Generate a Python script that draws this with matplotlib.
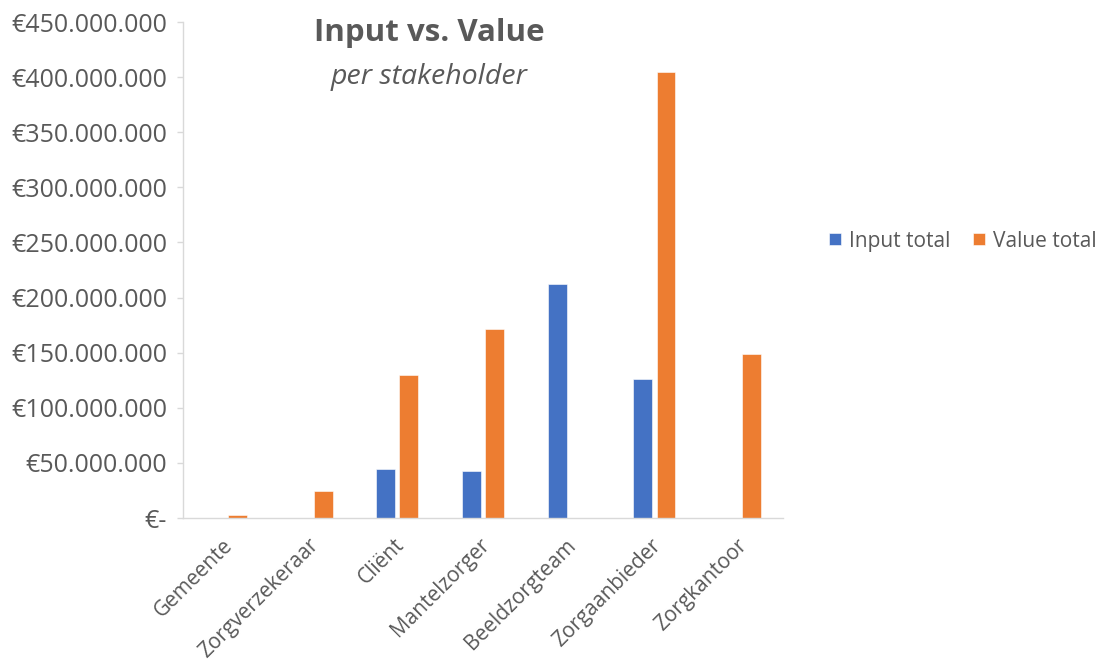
import matplotlib
matplotlib.use("Agg")
import matplotlib.pyplot as plt
import numpy as np
from matplotlib.ticker import FuncFormatter, MultipleLocator

# Stakeholders and their totals (in euro)
stakeholders = ["Gemeente", "Zorgverzekeraar", "Cliënt", "Mantelzorger",
                "Beeldzorgteam", "Zorgaanbieder", "Zorgkantoor"]
input_total = [0, 0, 44_700_000, 42_900_000, 212_300_000, 125_900_000, 0]
value_total = [2_500_000, 24_200_000, 129_500_000, 171_800_000, 0, 404_700_000, 148_800_000]

series_names = ["Input total", "Value total"]
colors = ["#4472C4", "#ED7D31"]
text_color = "#595959"

plt.rcParams["font.family"] = ["Open Sans", "DejaVu Sans"]

fig = plt.figure(figsize=(11.01, 6.67), dpi=100)
ax = fig.add_axes([183 / 1101, 1 - 518 / 667, 600 / 1101, 496 / 667])

x = np.arange(len(stakeholders))
w = 0.22
off = 0.135
ax.bar(x - off, input_total, width=w, color=colors[0], label=series_names[0],
       edgecolor="white", linewidth=0.4)
ax.bar(x + off, value_total, width=w, color=colors[1], label=series_names[1],
       edgecolor="white", linewidth=0.4)

ax.set_xlim(-0.5, len(stakeholders) - 0.5)
ax.set_ylim(0, 450_000_000)
ax.yaxis.set_major_locator(MultipleLocator(50_000_000))


def euro(v, pos):
    if v == 0:
        return "€-"
    return "€" + f"{int(round(v)):,}".replace(",", ".")


ax.yaxis.set_major_formatter(FuncFormatter(euro))

for side in ["top", "right"]:
    ax.spines[side].set_visible(False)
ax.spines["left"].set_color("#D9D9D9")
ax.spines["bottom"].set_color("#D9D9D9")
ax.spines["left"].set_linewidth(1.0)
ax.spines["bottom"].set_linewidth(1.0)

ax.tick_params(axis="y", length=4.5, width=1.0, color="#D9D9D9", pad=7,
               labelsize=18, labelcolor=text_color)
ax.tick_params(axis="x", length=0, pad=12, labelsize=15, labelcolor=text_color)
ax.set_xticks(x - 0.04)
ax.set_xticklabels(stakeholders, rotation=45, ha="right", rotation_mode="anchor")

fig.text(429 / 1101, 1 - 33 / 667, "Input vs. Value", ha="center", va="center",
         fontsize=22.5, fontweight="bold", color=text_color)
fig.text(429 / 1101, 1 - 77 / 667, "per stakeholder", ha="center", va="center",
         fontsize=20.5, fontstyle="italic", color=text_color)

fig.legend(loc="center right", bbox_to_anchor=(1.0, 1 - 241 / 667), ncol=2,
           frameon=False, fontsize=15, labelcolor=text_color,
           handlelength=0.55, handleheight=0.55, handletextpad=0.4,
           columnspacing=1.1, borderpad=0.1, borderaxespad=0.1)

fig.savefig("out.png", dpi=100)
